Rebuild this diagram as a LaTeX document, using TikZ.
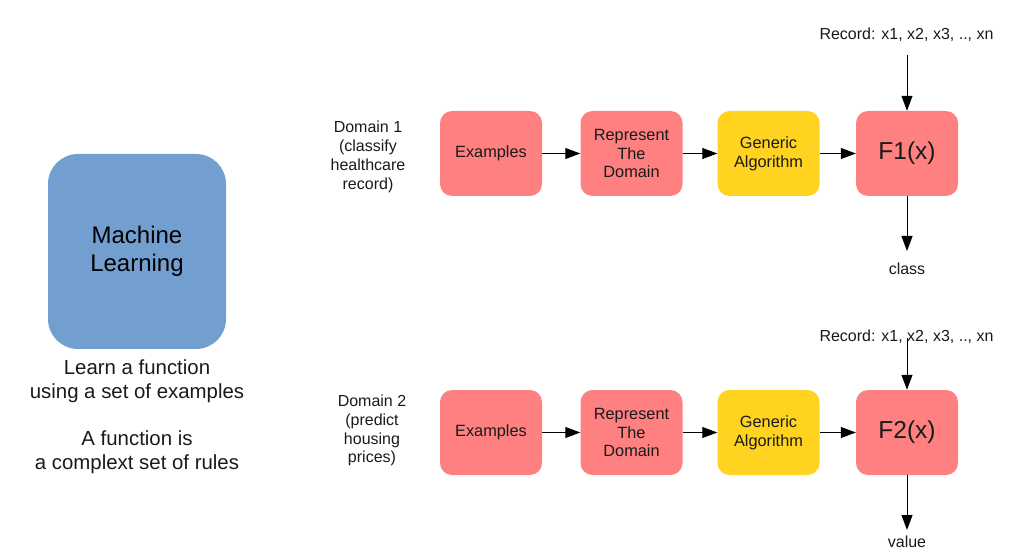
\documentclass[tikz,border=0pt]{standalone}
\usepackage{fontspec}
\setmainfont{Liberation Sans}
\usetikzlibrary{arrows.meta}
\definecolor{ink}{HTML}{1A1A1A}
\definecolor{mlblue}{HTML}{729FCF}
\definecolor{boxpink}{HTML}{FF8080}
\definecolor{boxyellow}{HTML}{FFD320}

\begin{document}
\begin{tikzpicture}[x=1pt,y=-1pt,
 stage/.style={fill=boxpink,rounded corners=12pt,minimum width=102pt,minimum height=85pt,inner sep=2pt,align=center,text=ink,font=\fontsize{16.3}{18.6}\selectfont},
 lbl/.style={inner sep=0pt,align=center,text=ink,font=\fontsize{16}{18.8}\selectfont},
 flow/.style={draw=black,line width=1pt,-{Triangle[length=15pt,width=11pt]}}]
\useasboundingbox (0,0) rectangle (1021,556);
\node[fill=mlblue,rounded corners=30pt,minimum width=178pt,minimum height=195pt,align=center,text=black,font=\fontsize{24}{28}\selectfont] (ml) at (137,251.5) {Machine\\Learning};
\node[lbl,font=\fontsize{20.4}{23.75}\selectfont] (note) at (137,416.5) {Learn a function\\using a set of examples\\[23.75pt]A function is\\a complext set of rules};
\foreach \r/\y/\dx/\dy/\dom/\fx/\ry/\rs/\oe/\oy/\out in {
 1/153.5/368/157/{Domain 1\\(classify\\healthcare\\record)}/F1(x)/35/55/251/269/class,
 2/432.5/372/430.5/{Domain 2\\(predict\\housing\\prices)}/F2(x)/337/338/530/542/value} {
 \node[lbl] (dom\r) at (\dx,\dy) {\dom};
 \node[stage] (ex\r) at (491,\y) {Examples};
 \node[stage] (rep\r) at (631.5,\y) {Represent\\The\\Domain};
 \node[stage,fill=boxyellow] (gen\r) at (768.5,\y) {Generic\\Algorithm};
 \node[stage,font=\fontsize{24.5}{28}\selectfont] (fun\r) at (907,\y) {\fx};
 \node[lbl] (rec\r) at (906.5,\ry) {Record: x1, x2, x3, .., xn};
 \node[lbl] (out\r) at (907,\oy) {\out};
 \coordinate (in\r) at (907,\rs);
 \coordinate (end\r) at (907,\oe);
 \draw[flow] (ex\r) -- (rep\r);
 \draw[flow] (rep\r) -- (gen\r);
 \draw[flow] (gen\r) -- (fun\r);
 \draw[flow] (in\r) -- (fun\r);
 \draw[flow] (fun\r) -- (end\r);
}
\end{tikzpicture}
\end{document}
